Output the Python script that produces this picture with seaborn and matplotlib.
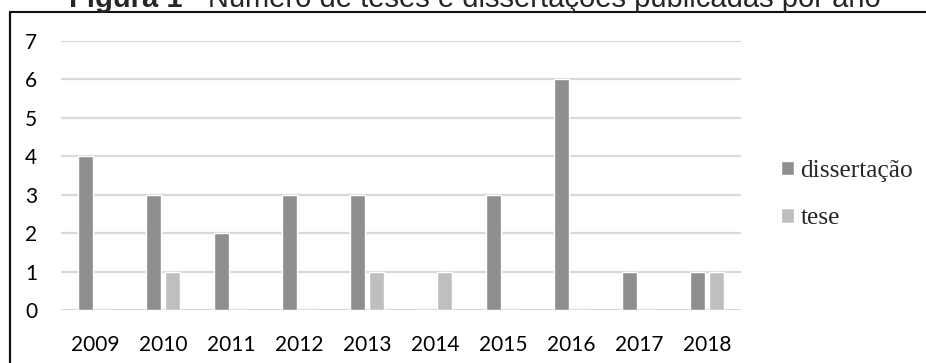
import matplotlib
matplotlib.use("Agg")
import matplotlib.pyplot as plt
from matplotlib.lines import Line2D
import seaborn as sns
import pandas as pd

years = ["2009", "2010", "2011", "2012", "2013", "2014", "2015", "2016", "2017", "2018"]
dissertacao = [4, 3, 2, 3, 3, 0, 3, 6, 1, 1]
tese = [0, 1, 0, 0, 1, 1, 0, 0, 0, 1]
series_names = ["dissertação", "tese"]
colors = ["#8f8f8f", "#bfbfbf"]
yticks = [0, 1, 2, 3, 4, 5, 6, 7]
title_bold = "Figura 1"
title_rest = " - Número de teses e dissertações publicadas por ano"

df = pd.DataFrame({
    "ano": years * 2,
    "valor": dissertacao + tese,
    "tipo": [series_names[0]] * len(years) + [series_names[1]] * len(years),
})

sns.set_theme(style="white")
W, H = 926, 363
fig = plt.figure(figsize=(W / 100, H / 100), dpi=100)
ax = fig.add_axes([61 / W, (H - 310) / H, (741 - 61) / W, (310 - 41) / H])

sns.barplot(data=df, x="ano", y="valor", hue="tipo", palette=colors,
            width=0.56, gap=0.2, ax=ax, saturation=1, legend=True, zorder=3)

ax.set_ylim(0, 7)
ax.set_xlim(-0.5, len(years) - 0.5)
ax.set_yticks(yticks)
ax.grid(axis="y", color="#d9d9d9", linewidth=1.6, zorder=0)
ax.set_axisbelow(True)
for s in ax.spines.values():
    s.set_visible(False)
ax.set_xlabel("")
ax.set_ylabel("")
tick_font = "Lato"
ax.tick_params(axis="y", length=0, pad=17, labelsize=15)
ax.tick_params(axis="x", length=0, pad=18, labelsize=15)
for lab in ax.get_xticklabels() + ax.get_yticklabels():
    lab.set_fontfamily(tick_font)
    lab.set_color("#000000")

handles, labels = ax.get_legend_handles_labels()
ax.legend(handles, labels, loc="upper left",
          bbox_to_anchor=(781 / W, 1 - 160 / H), bbox_transform=fig.transFigure,
          frameon=False, borderpad=0, borderaxespad=0,
          handlelength=0.52, handleheight=0.52, handletextpad=0.25,
          labelspacing=1.0,
          prop={"family": "Liberation Serif", "size": 18.3})

# frame lines
fig.add_artist(Line2D([10 / W, 10 / W], [1 - 12 / H, 0], transform=fig.transFigure,
                      color="#111111", linewidth=1.6))
fig.add_artist(Line2D([10 / W, 1], [1 - 12 / H, 1 - 12 / H], transform=fig.transFigure,
                      color="#111111", linewidth=1.5))

# title (mixed bold)
fig.canvas.draw()
r = fig.canvas.get_renderer()
tsize = 21
t1 = fig.text(0, 0, title_bold, fontweight="bold", fontsize=tsize,
              family="Liberation Sans", va="baseline", ha="left")
t2 = fig.text(0, 0, title_rest, fontsize=tsize,
              family="Liberation Sans", va="baseline", ha="left")
w1 = t1.get_window_extent(r).width
w2 = t2.get_window_extent(r).width
x0 = 475 - (w1 + w2) / 2
yb = 1 - 7 / H
t1.set_position((x0 / W, yb))
t2.set_position(((x0 + w1) / W, yb))

fig.savefig("out.png", dpi=100)
